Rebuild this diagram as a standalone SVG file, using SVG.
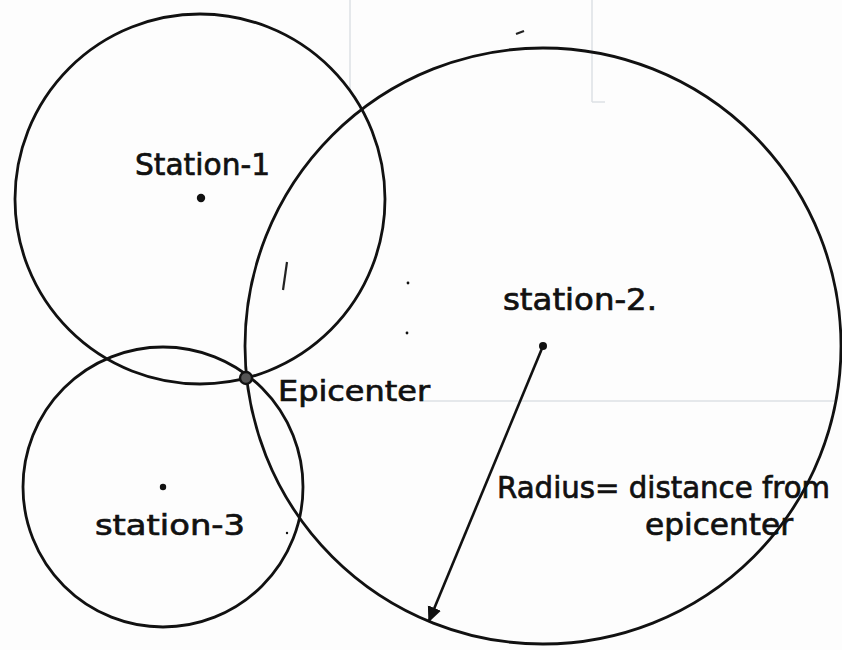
<svg xmlns="http://www.w3.org/2000/svg" width="842" height="650" viewBox="0 0 842 650">
<defs>
<style>
.c{fill:none;stroke:#111;stroke-width:2.8}
.t{font-family:"DejaVu Sans","Liberation Sans",sans-serif;fill:#111;stroke:#111;stroke-width:0.7}
.faint{stroke:#dde0e4;stroke-width:1.5;fill:none}
.dot{fill:#111}
</style>
<marker id="ah" viewBox="0 0 10 10" refX="9" refY="5" markerWidth="6" markerHeight="6" orient="auto" markerUnits="strokeWidth">
<path d="M0,0.5 L10,5 L0,9.5 Z" fill="#111"/>
</marker>
</defs>
<rect width="842" height="650" fill="#fdfdfd"/>
<g id="background-marks">
<line class="faint" x1="420" y1="401" x2="836" y2="401"/>
<line class="faint" x1="350" y1="0" x2="350" y2="90"/>
<line class="faint" x1="592" y1="0" x2="592" y2="102"/>
<line class="faint" x1="592" y1="102" x2="605" y2="102"/>
<path d="M516,34 L524,31" stroke="#222" stroke-width="2.2" fill="none"/>
<path d="M287,262 L283,290" stroke="#222" stroke-width="2.2" fill="none"/>
<circle cx="408" cy="283" r="1.4" class="dot"/>
<circle cx="407" cy="333" r="1.4" class="dot"/>
<circle cx="287" cy="533" r="1.2" class="dot"/>
</g>
<g id="station-1">
<circle class="c" cx="200" cy="199" r="185"/>
<circle class="dot" cx="201" cy="198" r="4.2"/>
<text class="t" x="135" y="175" font-size="31" textLength="135" lengthAdjust="spacingAndGlyphs">Station-1</text>
</g>
<g id="station-2">
<circle class="c" cx="543" cy="346" r="298"/>
<circle class="dot" cx="543" cy="346" r="4"/>
<text class="t" x="503" y="310" font-size="30" textLength="154" lengthAdjust="spacingAndGlyphs">station-2.</text>
</g>
<g id="station-3">
<circle class="c" cx="163" cy="487" r="140"/>
<circle class="dot" cx="163" cy="487" r="3.2"/>
<text class="t" x="95" y="535" font-size="29" textLength="150" lengthAdjust="spacingAndGlyphs">station-3</text>
</g>
<g id="epicenter">
<circle cx="246" cy="378" r="6" fill="#555" stroke="#111" stroke-width="2.4"/>
<text class="t" x="278" y="401" font-size="28" textLength="152" lengthAdjust="spacingAndGlyphs">Epicenter</text>
</g>
<g id="connectors">
<line x1="543" y1="346" x2="429" y2="621" stroke="#111" stroke-width="2.6" marker-end="url(#ah)"/>
</g>
<g id="radius-label">
<text class="t" x="497" y="498" font-size="30" textLength="333" lengthAdjust="spacingAndGlyphs">Radius= distance from</text>
<text class="t" x="645" y="535" font-size="30" textLength="148" lengthAdjust="spacingAndGlyphs">epicenter</text>
</g>
</svg>
